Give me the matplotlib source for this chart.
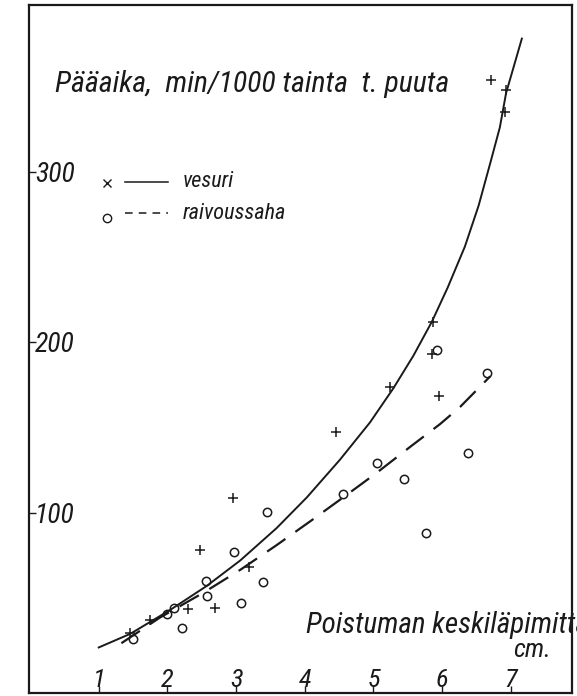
import matplotlib.pyplot as plt
import matplotlib.transforms as mtransforms

# vesuri (+) observations
vesuri_x = [6.71, 6.93, 6.91, 5.86, 5.85, 5.24, 5.95, 4.46, 2.96, 2.48, 3.19, 2.69, 2.30, 1.75, 1.46]
vesuri_y = [354, 347.8, 335, 211.6, 193, 173.6, 168.5, 147.6, 108.6, 78, 68, 44, 43.5, 37, 29.5]

# raivaussaha (o) observations
saha_x = [5.93, 6.65, 6.37, 5.44, 5.05, 4.56, 5.76, 3.45, 2.97, 2.56, 3.39, 2.58, 3.07, 2.09, 1.99, 2.21, 1.50]
saha_y = [195.4, 182, 135, 119.5, 129, 111, 88, 100.5, 77, 60, 59.6, 51, 47, 44.4, 40.6, 32.7, 26]

# hand drawn curves
vesuri_curve_x = [1.0, 1.46, 2.04, 2.57, 3.06, 3.59, 4.03, 4.51, 4.95, 5.29, 5.58, 5.85, 6.08, 6.33, 6.53, 6.70, 6.84, 6.93, 7.16]
vesuri_curve_y = [21, 29, 43, 57, 72, 91, 109, 131, 153, 173, 192, 212, 232, 256, 280, 305, 326, 346, 378]

saha_curve_x = [1.33, 1.89, 2.52, 3.06, 3.59, 4.08, 4.56, 5.05, 5.53, 5.97, 6.26, 6.70]
saha_curve_y = [23.5, 38.5, 53, 66.5, 81, 95, 109, 123.5, 138.5, 152, 162, 180]

x_ticks = [1, 2, 3, 4, 5, 6, 7]
y_ticks = [100, 200, 300]

font = ['Roboto Condensed', 'Liberation Sans', 'DejaVu Sans']
ink = '#1a1a1a'
tf = dict(style='italic', weight='normal', family=font, color=ink)

fig = plt.figure(figsize=(5.77, 6.96), dpi=100)
ax = fig.add_axes([29 / 577, 3 / 696, 543 / 577, 688 / 696])
ax.set_xlim(-0.015, 7.89)
ax.set_ylim(-5.7, 397.7)

ax.plot(vesuri_curve_x, vesuri_curve_y, color=ink, lw=1.4)
ax.plot(saha_curve_x, saha_curve_y, color=ink, lw=1.6, linestyle=(0, (10, 5.5)))
ax.plot(vesuri_x, vesuri_y, '+', color=ink, ms=7, mew=1.1)
ax.plot(saha_x, saha_y, 'o', mfc='none', mec=ink, ms=6, mew=1.1)

for s in ax.spines.values():
    s.set_linewidth(1.6)
    s.set_color(ink)

ax.set_xticks(x_ticks)
ax.set_yticks(y_ticks)
ax.tick_params(direction='in', length=5, width=1, colors=ink, labelbottom=False, labelleft=False)

bx = mtransforms.blended_transform_factory(ax.transData, ax.transAxes)
for t in x_ticks:
    ax.text(t, 0.009, str(t), transform=bx, ha='center', va='baseline', fontsize=19, **tf)
by = mtransforms.blended_transform_factory(ax.transAxes, ax.transData)
by = mtransforms.offset_copy(by, fig=fig, y=-10, units='dots')
for t in y_ticks:
    ax.text(0.011, t, str(t), transform=by, ha='left', va='baseline', fontsize=20, **tf)

ax.text(0.048, 0.8735, 'Pääaika,  min/1000 tainta  t. puuta', transform=ax.transAxes,
        ha='left', va='baseline', fontsize=21.5, **tf)

# legend
ax.plot([0.1436], [0.7413], 'x', transform=ax.transAxes, color=ink, ms=6, mew=1.0)
ax.plot([0.177, 0.256], [0.7427, 0.7427], transform=ax.transAxes, color=ink, lw=1.1)
ax.text(0.2836, 0.7355, 'vesuri', transform=ax.transAxes, va='baseline', fontsize=16, **tf)
ax.plot([0.1436], [0.6904], 'o', transform=ax.transAxes, mfc='none', mec=ink, ms=6, mew=1.0)
ax.plot([0.177, 0.256], [0.6977, 0.6977], transform=ax.transAxes, color=ink, lw=1.1, linestyle=(0, (5, 4)))
ax.text(0.2836, 0.6890, 'raivoussaha', transform=ax.transAxes, va='baseline', fontsize=16, **tf)

ax.text(0.51, 0.0872, 'Poistuman keskiläpimitta,', transform=ax.transAxes, ha='left', va='baseline',
        fontsize=21, clip_on=False, **tf)
ax.text(0.892, 0.0523, 'cm.', transform=ax.transAxes, ha='left', va='baseline', fontsize=19, **tf)

plt.savefig('out.png', dpi=100)
